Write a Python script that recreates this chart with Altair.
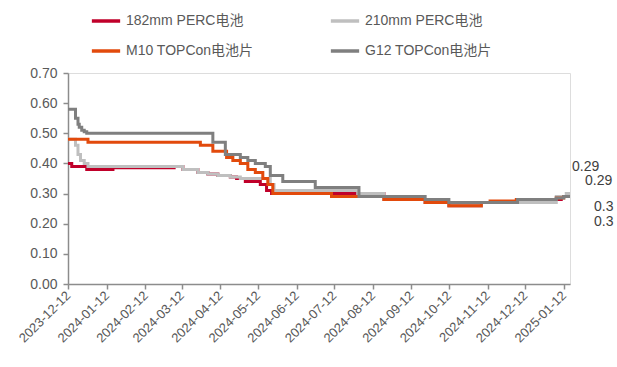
import altair as alt
import pandas as pd

series_names = ["182mm PERC电池", "210mm PERC电池", "M10 TOPCon电池片", "G12 TOPCon电池片"]
series_colors = ["#C0002A", "#BFBFBF", "#E24A0C", "#7F7F7F"]
legend_order = [0, 2, 1, 3]

red_dates = ["2023-12-12", "2023-12-15", "2023-12-27", "2024-01-17", "2024-03-06", "2024-03-13",
             "2024-03-25", "2024-04-02", "2024-04-10", "2024-04-20", "2024-04-25", "2024-05-02",
             "2024-05-14", "2024-05-19", "2024-05-23",
             "2024-08-21", "2024-09-23", "2024-10-12", "2024-11-07", "2024-12-06", "2025-01-10", "2025-01-17"]
red_vals = [0.40, 0.39, 0.38, 0.386, 0.39, 0.38,
            0.37, 0.365, 0.36, 0.355, 0.35, 0.34,
            0.33, 0.31, 0.30,
            0.28, 0.27, 0.26, 0.27, 0.28, 0.29, 0.29]

lgray_dates = ["2023-12-12", "2023-12-18", "2023-12-20", "2023-12-22", "2023-12-25", "2023-12-28",
               "2024-03-13", "2024-03-25", "2024-04-02", "2024-04-10", "2024-04-20", "2024-04-28",
               "2024-05-22", "2024-05-25", "2024-07-31", "2024-08-21", "2024-09-23", "2024-10-12",
               "2024-11-07", "2025-01-06", "2025-01-14", "2025-01-17"]
lgray_vals = [0.48, 0.46, 0.43, 0.41, 0.40, 0.39,
              0.38, 0.37, 0.365, 0.36, 0.355, 0.35,
              0.33, 0.31, 0.30, 0.28, 0.27, 0.26,
              0.27, 0.29, 0.30, 0.30]

orange_dates = ["2023-12-12", "2023-12-28", "2024-03-27", "2024-04-06", "2024-04-17", "2024-04-22",
                "2024-04-28", "2024-05-04", "2024-05-10", "2024-05-16", "2024-05-20", "2024-05-24",
                "2024-07-10", "2024-08-21", "2024-09-23", "2024-10-12", "2024-11-07", "2024-11-14",
                "2024-12-05", "2025-01-06", "2025-01-12", "2025-01-17"]
orange_vals = [0.48, 0.47, 0.46, 0.44, 0.42, 0.41,
               0.40, 0.38, 0.37, 0.35, 0.33, 0.30,
               0.29, 0.28, 0.27, 0.26, 0.27, 0.275,
               0.28, 0.285, 0.29, 0.29]

dgray_dates = ["2023-12-12", "2023-12-18", "2023-12-20", "2023-12-21", "2023-12-23", "2023-12-25",
               "2023-12-27", "2024-04-06", "2024-04-16", "2024-04-28", "2024-05-04", "2024-05-10",
               "2024-05-18", "2024-05-22", "2024-06-01", "2024-06-27", "2024-08-01", "2024-09-23",
               "2024-10-12", "2024-12-06", "2025-01-06", "2025-01-12", "2025-01-17"]
dgray_vals = [0.58, 0.55, 0.53, 0.52, 0.51, 0.505,
              0.50, 0.47, 0.43, 0.42, 0.41, 0.40,
              0.39, 0.36, 0.34, 0.32, 0.29, 0.28,
              0.27, 0.28, 0.285, 0.29, 0.29]

end_labels = ["0.29", "0.29", "0.3", "0.3"]
end_values = [0.29, 0.29, 0.30, 0.30]
end_dx = [2, 15, 24, 24]
end_dy = [-30, -16, 13, 28]
end_date = "2025-01-17"

tick_dates = [(2023, 12)] + [(2024, m) for m in range(1, 13)] + [(2025, 1)]

FONT = "Liberation Sans, Arial, Noto Sans CJK SC"

all_data = [
    (series_names[0], red_dates, red_vals),
    (series_names[1], lgray_dates, lgray_vals),
    (series_names[2], orange_dates, orange_vals),
    (series_names[3], dgray_dates, dgray_vals),
]

color_scale = alt.Scale(domain=[series_names[i] for i in legend_order],
                        range=[series_colors[i] for i in legend_order])
x_scale = alt.Scale(type="utc", domain=[alt.DateTime(year=2023, month=12, date=12, utc=True),
                                        alt.DateTime(year=2025, month=1, date=17, utc=True)])
y_scale = alt.Scale(domain=[0, 0.7], nice=False)

x_axis = alt.Axis(
    values=[alt.DateTime(year=y, month=m, date=12, utc=True) for y, m in tick_dates],
    labelExpr="utcFormat(datum.value, '%Y-%m-%d')", labelAngle=-45, labelAlign="right",
    labelBaseline="middle", labelFontSize=13, labelColor="#595959", labelFont=FONT,
    grid=False, domainColor="#8C8C8C", domainWidth=1.5, tickColor="#8C8C8C", tickWidth=1.5,
    tickSize=5, labelPadding=4, title=None, labelOverlap=False,
)
y_axis = alt.Axis(
    values=[0, 0.1, 0.2, 0.3, 0.4, 0.5, 0.6, 0.7], format=".2f", labelFontSize=14,
    labelColor="#595959", labelFont=FONT, grid=False, domainColor="#8C8C8C",
    domainWidth=1.5, tickColor="#8C8C8C", tickWidth=1.5, tickSize=5, labelPadding=6, title=None,
)
legend = alt.Legend(
    title=None, orient="none", legendX=22, legendY=-68, columns=2,
    symbolType="stroke", symbolSize=800, symbolStrokeWidth=3.5,
    labelFontSize=14, labelColor="#595959", labelFont=FONT,
    columnPadding=69, rowPadding=7, labelOffset=4,
)

X = alt.X("date:T", scale=x_scale, axis=x_axis)
Y = alt.Y("value:Q", scale=y_scale, axis=y_axis)

layers = []
for i, (name, dates, vals) in enumerate(all_data):
    df = pd.DataFrame({"date": dates, "value": vals, "series": name})
    layers.append(
        alt.Chart(df).mark_line(interpolate="step-after", strokeWidth=3).encode(
            x=X, y=Y, color=alt.Color("series:N", scale=color_scale, legend=legend)
        )
    )

lab_df = pd.DataFrame({"date": [end_date] * 4, "value": end_values, "label": end_labels})
for k in range(4):
    layers.append(
        alt.Chart(lab_df.iloc[[k]]).mark_text(
            align="left", baseline="middle", fontSize=14, color="#404040", font=FONT,
            dx=end_dx[k], dy=end_dy[k]
        ).encode(x=X, y=Y, text="label:N")
    )

chart = alt.layer(*layers).properties(
    width=502, height=211,
    autosize=alt.AutoSizeParams(type="none"),
    padding={"left": 68, "top": 73, "right": 47, "bottom": 83},
).configure_view(stroke=None).configure(background="white")

chart.save("out.html", embed_options={"renderer": "svg", "actions": False})
